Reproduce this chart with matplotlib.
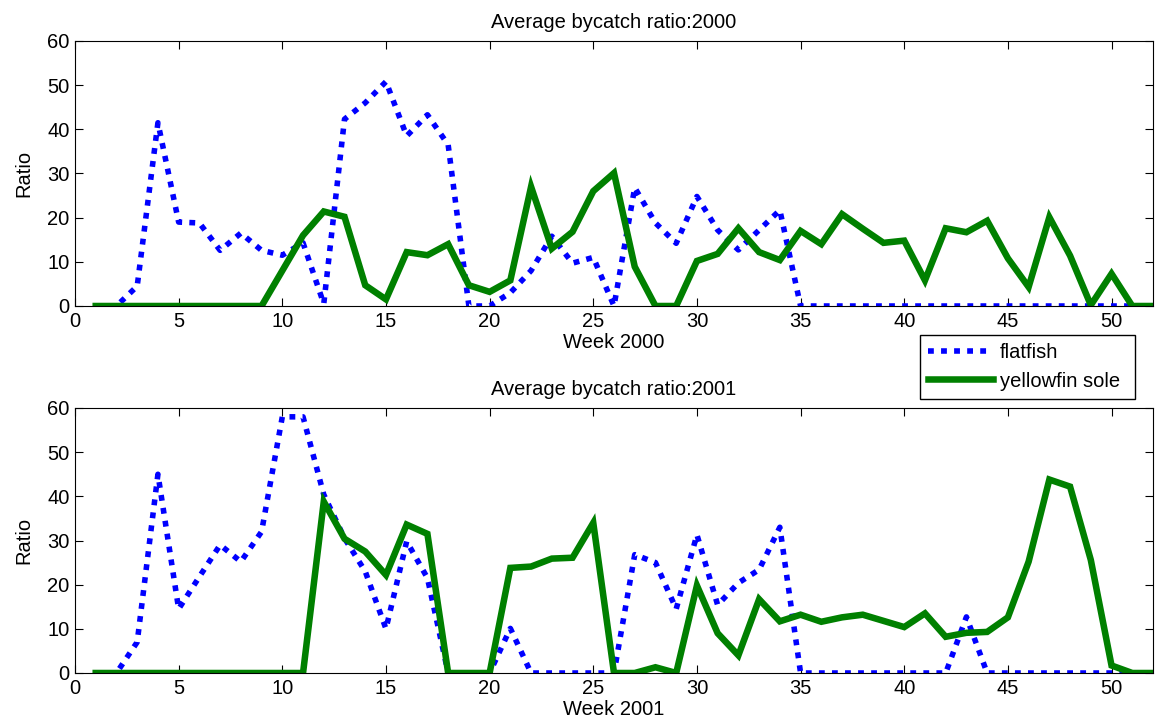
import matplotlib
matplotlib.use("Agg")
import matplotlib.pyplot as plt

plt.rcParams['font.family'] = ['Liberation Sans', 'DejaVu Sans']

weeks = list(range(1, 53))

# 2000
flatfish_2000 = [0, 0, 4.5, 41.5, 19, 18.8, 12.6, 16.5, 12.6, 11.5,
                 14.3, 0.5, 42.3, 46, 50.8, 38.5, 43.3, 36.5, 0, 0,
                 3, 8, 15.8, 9.7, 11, 0, 26.8, 18.8, 14.2, 24.8,
                 17.2, 12.7, 17.2, 21.7, 0, 0, 0, 0, 0, 0,
                 0, 0, 0, 0, 0, 0, 0, 0, 0, 0,
                 0, 0]
yellowfin_2000 = [0, 0, 0, 0, 0, 0, 0, 0, 0, 8,
                  16, 21.4, 20.2, 4.7, 1.5, 12.2, 11.5, 14, 4.7, 3.2,
                  5.8, 27, 13, 16.8, 26, 30.1, 8.9, 0, 0, 10.2,
                  11.8, 17.6, 12.2, 10.4, 17, 14, 20.8, 17.5, 14.3, 14.8,
                  5.8, 17.6, 16.7, 19.3, 10.8, 4.3, 20.1, 11.4, 0.2, 7.3,
                  0, 0]

# 2001
flatfish_2001 = [0, 0, 7, 45, 14.5, 21.8, 29, 25.2, 32, 58,
                 58, 40.4, 30.5, 23, 10, 29.8, 21.5, 0, 0, 0,
                 10.1, 0, 0, 0, 0, 0, 26.8, 25, 14.5, 31.3,
                 15.4, 20.4, 23.4, 33, 0, 0, 0, 0, 0, 0,
                 0, 0, 12.7, 0, 0, 0, 0, 0, 0, 0,
                 0, 0]
yellowfin_2001 = [0, 0, 0, 0, 0, 0, 0, 0, 0, 0,
                  0, 38.8, 30.4, 27.5, 22.2, 33.6, 31.5, 0, 0, 0,
                  23.8, 24.1, 25.9, 26.1, 34, 0, 0, 1.3, 0, 19.8,
                  9, 4, 16.7, 11.7, 13.2, 11.6, 12.6, 13.2, 11.8, 10.4,
                  13.5, 8.2, 9.1, 9.3, 12.6, 25.2, 43.8, 42.2, 25.6, 1.7,
                  0, 0]

fig = plt.figure(figsize=(11.59, 7.26), dpi=100)
W, H = 1159, 726
ax1 = fig.add_axes([75 / W, 1 - 306 / H, (1153 - 75) / W, (306 - 41) / H])
ax2 = fig.add_axes([75 / W, 1 - 673 / H, (1153 - 75) / W, (673 - 408) / H])

fs = 14.5
for ax, ff, yf, year in [(ax1, flatfish_2000, yellowfin_2000, 2000),
                         (ax2, flatfish_2001, yellowfin_2001, 2001)]:
    ax.plot(weeks, ff, color='#0000ff', linewidth=4.0,
            linestyle=(0, (1.05, 1.3)), label='flatfish')
    ax.plot(weeks, yf, color='#008000', linewidth=4.7,
            label='yellowfin sole', solid_joinstyle='miter')
    ax.set_xlim(0, 52)
    ax.set_ylim(0, 60)
    ax.set_xticks(range(0, 55, 5))
    ax.set_yticks(range(0, 70, 10))
    ax.tick_params(direction='in', top=True, right=True, length=6,
                   labelsize=fs, width=0.8, pad=4)
    ax.set_title('Average bycatch ratio:%d' % year, fontsize=fs, pad=9)
    ax.set_xlabel('Week %d' % year, fontsize=fs, labelpad=2)
    ax.set_ylabel('Ratio', fontsize=fs, labelpad=10)
    for s in ax.spines.values():
        s.set_linewidth(0.8)

leg = ax1.legend(loc='center', bbox_to_anchor=(920 / W, 1 - 399 / H, 215 / W, 64 / H),
                 bbox_transform=fig.transFigure, mode='expand', fontsize=fs,
                 fancybox=False, edgecolor='black', framealpha=1,
                 borderaxespad=0, handlelength=3.2, handletextpad=0.35,
                 borderpad=0.4, labelspacing=0.45)
leg.get_frame().set_linewidth(1.0)

fig.savefig('out.png', dpi=100)
